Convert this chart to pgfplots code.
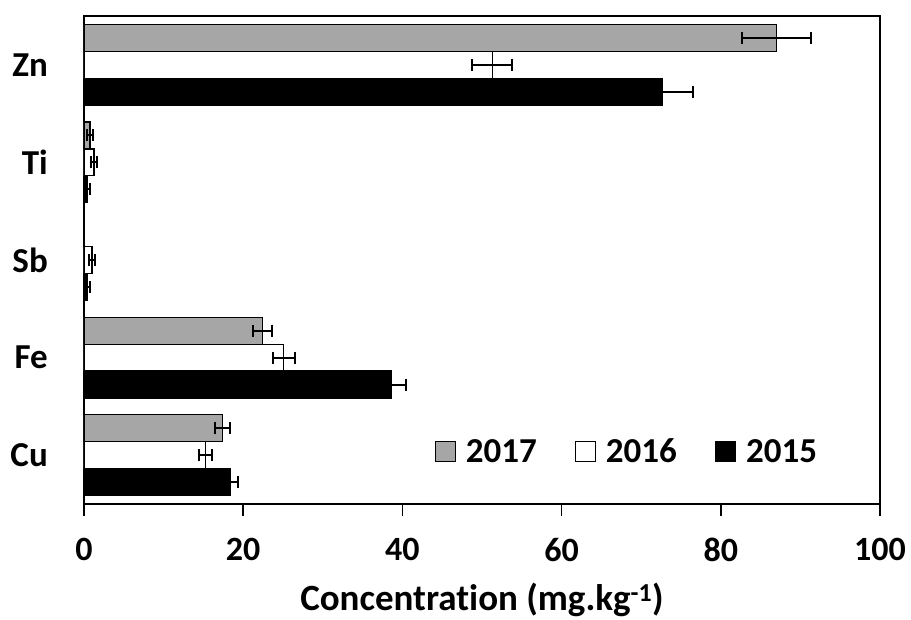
\documentclass[border=0pt]{standalone}
\usepackage{fontspec}
\setmainfont{Carlito}[Ligatures=CommonOff]
\usepackage{pgfplots}
\usepackage{pgfplotstable}
\pgfplotsset{compat=1.18}
\definecolor{barg}{HTML}{A6A6A6}

\pgfplotstableread{
y x ex
0 17.4 0.95
1 22.4 1.2
3 0.75 0.35
4 87.0 4.3
}\tseventeen
\pgfplotstableread{
y x ex
0 15.3 0.8
1 25.1 1.35
2 1.0 0.4
3 1.25 0.35
4 51.3 2.5
}\tsixteen
\pgfplotstableread{
y x ex
0 18.4 1.0
1 38.6 1.9
2 0.4 0.4
3 0.4 0.4
4 72.7 3.8
}\tfifteen

\pgfplotsset{
  myerr/.style={
    error bars/.cd,
      x dir=both, x explicit,
      error mark=|,
      error bar style={line width=2pt, solid, black},
      error mark options={line width=2pt, black, mark size=6pt, solid},
  }
}

\begin{document}
\begin{tikzpicture}[x=1pt,y=1pt]
\path[use as bounding box] (-84,-115) rectangle (827,504);
\begin{axis}[
  at={(0,0)}, anchor=south west,
  scale only axis, width=796pt, height=488pt,
  xmin=0, xmax=100, ymin=-0.5, ymax=4.5,
  xbar, bar width=0.276,
  xtick={0,20,...,100},
  ytick={0,1,2,3,4}, yticklabels={Cu,Fe,Sb,Ti,Zn},
  xtick pos=lower,
  tick align=outside,
  major tick length=12pt,
  xtick style={line width=1.5pt, black},
  ytick style={draw=none},
  axis line style={line width=1.5pt},
  /pgf/number format/assume math mode=true,
  xticklabel style={font=\bfseries\fontsize{34}{34}\selectfont, inner sep=0pt, yshift=-22pt},
  yticklabel style={font=\bfseries\fontsize{35}{35}\selectfont, inner sep=0pt, xshift=-24pt},
  xlabel={Concentration (mg.kg\textsuperscript{-1})},
  xlabel style={font=\bfseries\fontsize{37}{37}\selectfont, inner sep=0pt, yshift=-21pt},
  legend columns=3,
  legend style={draw=none, fill=none, at={(0.682,0.107)}, anchor=center,
    font=\bfseries\fontsize{35}{35}\selectfont,
    /tikz/every even column/.append style={column sep=36pt}},
  legend image code/.code={\draw[#1,draw=black,line width=1.2pt] (0pt,-10pt) rectangle (20pt,10pt); \path (28pt,0pt);},
]
\addplot[fill=barg, draw=black, line width=1.2pt, bar shift=0.276, myerr] table[x=x, y=y, x error=ex] {\tseventeen};
\addlegendentry{2017}
\addplot[fill=white, draw=black, line width=1.2pt, bar shift=0, myerr] table[x=x, y=y, x error=ex] {\tsixteen};
\addlegendentry{2016}
\addplot[fill=black, draw=black, line width=1.2pt, bar shift=-0.276, myerr] table[x=x, y=y, x error=ex] {\tfifteen};
\addlegendentry{2015}
\end{axis}
\end{tikzpicture}
\end{document}
